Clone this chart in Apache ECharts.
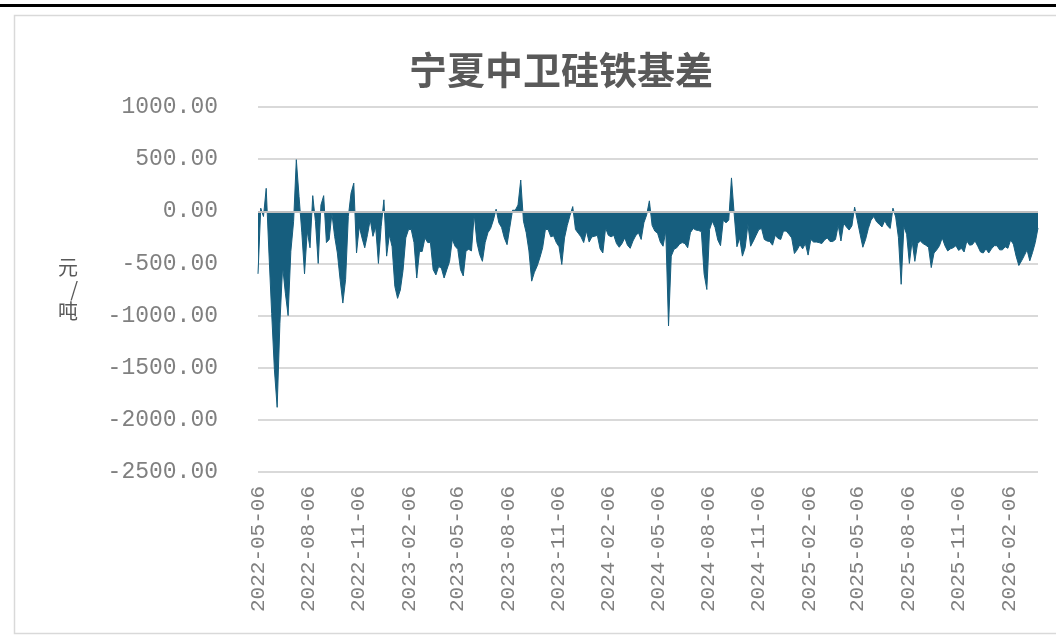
<!DOCTYPE html>
<html><head><meta charset="utf-8">
<script src="https://cdn.jsdelivr.net/npm/echarts@6/dist/echarts.min.js"></script>
<style>html,body{margin:0;padding:0;background:#fff}#c{width:1056px;height:639px}</style>
</head><body><div id="c"></div>
<script>
const TITLE = '宁夏中卫硅铁基差';
const Y_NAME = '元\n/\n吨';
const START_DATE = '2022-05-06';
const STEP_DAYS = 5;
const xTickLabels = ['2022-05-06','2022-08-06','2022-11-06','2023-02-06','2023-05-06','2023-08-06','2023-11-06','2024-02-06','2024-05-06','2024-08-06','2024-11-06','2025-02-06','2025-05-06','2025-08-06','2025-11-06','2026-02-06'];
const yMin = -2500, yMax = 1000, yStep = 500;

// basis (元/吨), one reading every 5 days from 2022-05-06
const basis2022 = [
 -600,30,-50,220,-400,-980,-1520,-1880,-1075,-530,-785,-1000,-385,-100,495,140,-200,-600,-190,-350,
 150,-100,-500,60,150,-300,-270,-20,-240,-400,-655,-880,-655,-50,175,270,-400,-145,-255,-350,
 -225,-80,-240,-150,-500,-145,110,-430,-225,-340,-720,-835,-755,-565,-255,-175,-175,-300,-640,-385,
 -385,-255,-300,-300,-560,-610,-530,-545,-640,-560,-480
];
const basis2023 = [
 -270,-335,-365,-560,-620,-380,-365,-380,-30,-300,-415,-480,-300,-205,-165,-85,20,-110,-155,-255,
 -320,-155,10,10,60,300,-95,-205,-380,-670,-585,-525,-445,-350,-175,-175,-245,-235,-300,-340,
 -510,-255,-135,-40,45,-175,-210,-245,-300,-190,-295,-245,-240,-230,-360,-400,-160,-230,-245,-230,
 -310,-345,-310,-255,-325,-355,-285,-235,-205
];
const basis2024 = [
 -270,-110,-35,100,-135,-190,-210,-295,-335,-190,-1100,-430,-365,-350,-315,-300,-310,-350,-205,-165,
 -180,-185,-195,-600,-750,-175,-95,-155,-275,-330,-85,-110,-85,320,-30,-340,-255,-430,-350,-125,
 -335,-285,-230,-175,-165,-270,-285,-290,-325,-230,-260,-270,-190,-190,-220,-255,-405,-370,-320,-360,
 -310,-420,-270,-295,-295,-300,-310,-275,-255,-290,-290,-270,-135,-285,-115,-150,-180
];
const basis2025 = [
 -140,40,-90,-220,-345,-270,-165,-85,-50,-100,-125,-150,-90,-140,-165,30,-55,-250,-700,-145,
 -220,-500,-285,-480,-310,-285,-310,-325,-345,-540,-400,-370,-330,-255,-330,-380,-360,-350,-330,-375,
 -355,-390,-285,-325,-320,-285,-335,-390,-400,-360,-400,-360,-330,-330,-370,-370,-340,-355,-275,-315,
 -430,-520,-475,-425,-370,-475,-395,-300,-160
];
const basisValues = basis2022.concat(basis2023, basis2024, basis2025);

function parseLocal(s){const p=s.split('-').map(Number);return new Date(p[0],p[1]-1,p[2]).getTime();}
function fmt(ts){const d=new Date(ts);const p=n=>(n<10?'0':'')+n;return d.getFullYear()+'-'+p(d.getMonth()+1)+'-'+p(d.getDate());}
const startTs = parseLocal(START_DATE);
const sampleDates = basisValues.map((_, i) => { const d = new Date(startTs); d.setDate(d.getDate() + i * STEP_DAYS); return d.getTime(); });
const seriesData = sampleDates.map((t, i) => [t, basisValues[i]]);
const xTickTs = xTickLabels.map(parseLocal);

const AREA = '#165E7E';
const chart = echarts.init(document.getElementById('c'), null, {renderer: 'canvas'});
chart.setOption({
  animation: false,
  backgroundColor: '#ffffff',
  title: {
    text: TITLE, left: 556, top: 46, textAlign: 'center',
    textStyle: {fontFamily: 'Noto Sans CJK SC', fontSize: 38, fontWeight: 'bold', color: '#595959'}
  },
  graphic: [
    {type: 'rect', left: 0, top: 4, shape: {width: 1056, height: 3}, style: {fill: '#000'}, silent: true},
    {type: 'rect', left: 12, top: 13, shape: {width: 1060, height: 618}, style: {fill: 'none', stroke: '#d9d9d9', lineWidth: 1.5}, silent: true}
  ],
  grid: {left: 258, right: 18, top: 107, bottom: 167},
  xAxis: {
    type: 'value',
    min: sampleDates[0], max: sampleDates[sampleDates.length - 1],
    axisLine: {show: false, onZero: false},
    axisTick: {show: false},
    splitLine: {show: false},
    axisLabel: {
      customValues: xTickTs,
      formatter: v => fmt(v),
      rotate: 90, margin: 14,
      fontFamily: 'Liberation Mono', fontSize: 21, color: '#808080'
    }
  },
  yAxis: {
    type: 'value', min: yMin, max: yMax, interval: yStep,
    name: Y_NAME, nameLocation: 'middle', nameGap: 180, nameRotate: 0,
    nameTextStyle: {fontFamily: 'Noto Sans CJK SC', fontSize: 20, lineHeight: 22, color: '#595959'},
    axisLine: {show: false}, axisTick: {show: false},
    splitLine: {lineStyle: {color: '#d9d9d9', width: 2}},
    axisLabel: {formatter: v => v.toFixed(2), margin: 40, fontFamily: 'Liberation Mono', fontSize: 23, color: '#808080'}
  },
  series: [{
    type: 'line', data: seriesData, symbol: 'none',
    lineStyle: {color: AREA, width: 1},
    areaStyle: {color: AREA, opacity: 1},
    markLine: {
      silent: true, symbol: ['none', 'none'], label: {show: false},
      lineStyle: {color: '#bfbfbf', width: 2, type: 'solid'},
      data: [{yAxis: 0}]
    }
  }]
});
</script></body></html>
